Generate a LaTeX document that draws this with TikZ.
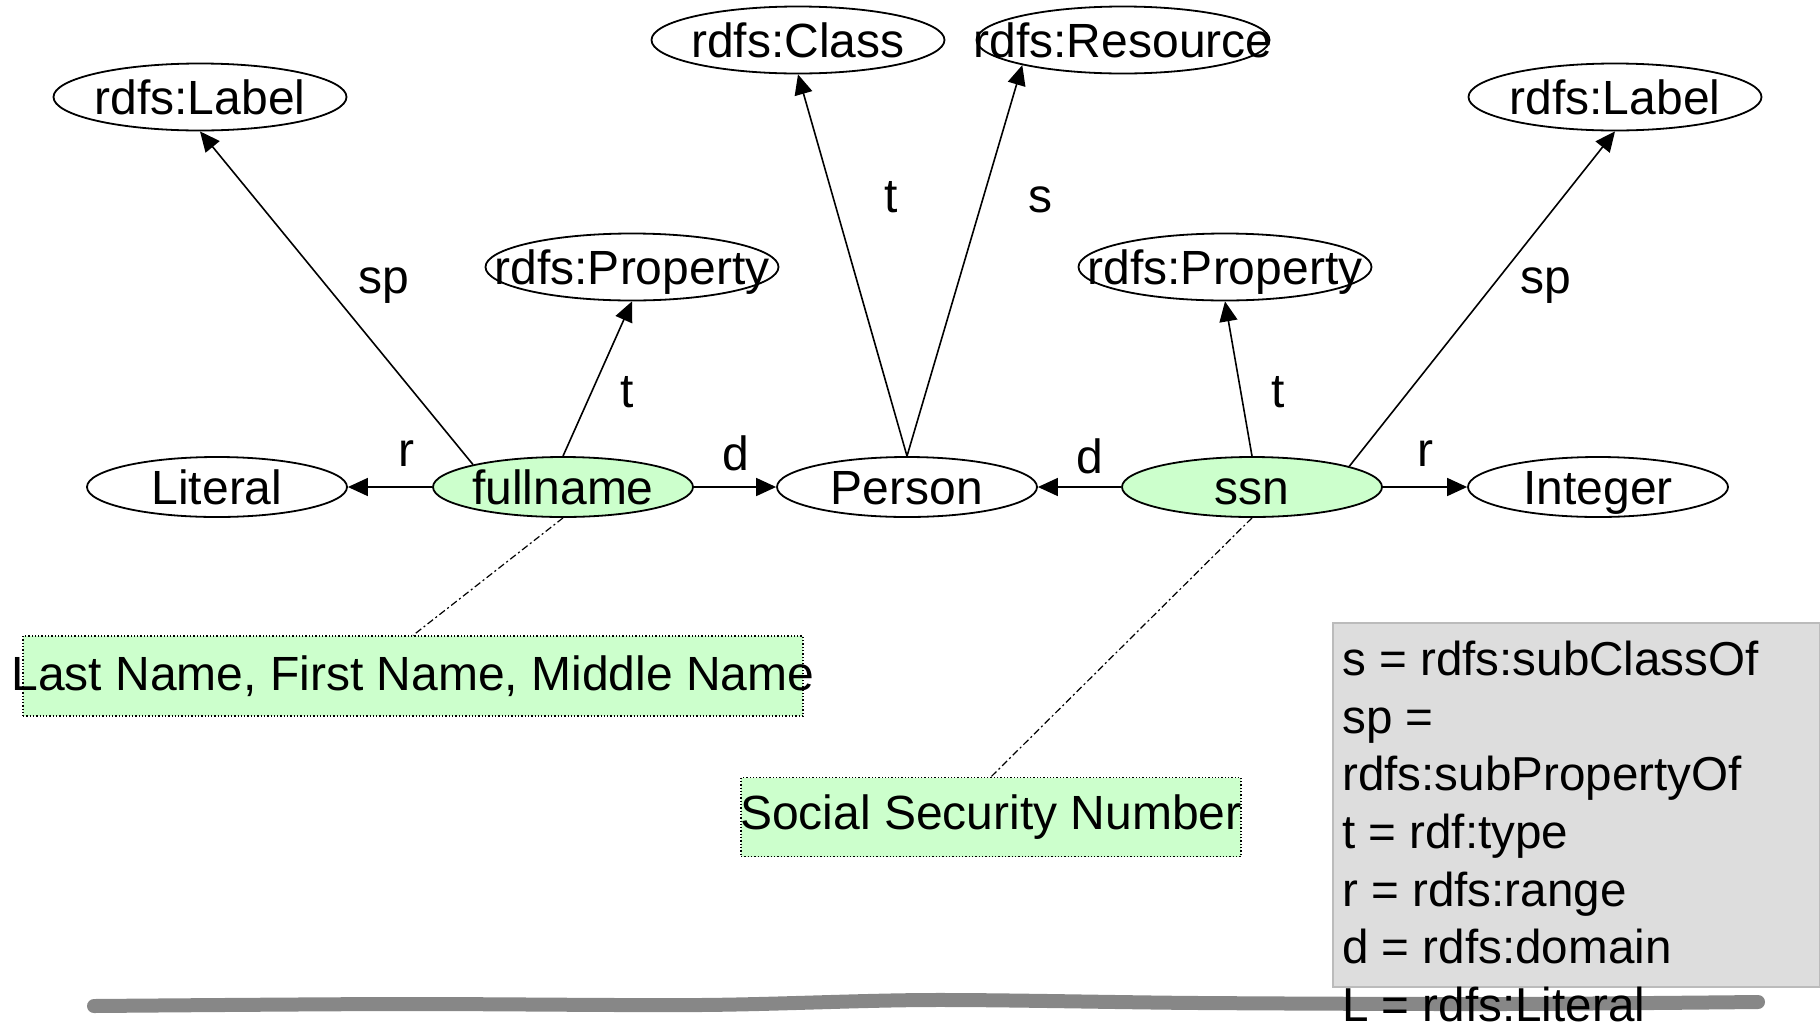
\documentclass[tikz,border=0pt]{standalone}
\usepackage{fontspec}
\setmainfont{Liberation Sans}
\usetikzlibrary{arrows.meta,shapes.geometric}
\definecolor{nodegreen}{HTML}{CCFFCC}
\definecolor{legendfill}{HTML}{DDDDDD}
\definecolor{legendline}{HTML}{BBBBBB}
\definecolor{bargray}{HTML}{878787}
\newcommand{\nt}[1]{\makebox[0pt]{\smash{\raisebox{-0.37em}{#1}}}}
\begin{document}
\begin{tikzpicture}[x=1pt,y=-1pt,
  every node/.style={font=\fontsize{48}{57.6}\selectfont},
  bigell/.style={ellipse, draw, line width=1.8pt, minimum width=293pt, minimum height=67pt, inner sep=0pt},
  smallell/.style={ellipse, draw, line width=1.8pt, minimum width=260pt, minimum height=60pt, inner sep=0pt},
  hl/.style={fill=nodegreen},
  edge/.style={line width=1.6pt, -{Triangle[length=20pt,width=18pt]}},
  elabel/.style={inner sep=0pt},
  note/.style={fill=nodegreen, draw, dotted, line width=1.3pt, inner sep=0pt},
  noteline/.style={line width=1.2pt, dash pattern=on 7pt off 3pt on 2pt off 3pt}
]
\useasboundingbox (0,0) rectangle (1820,1026);

% ellipses
\node[bigell] (labelL) at (200,97) {\nt{rdfs:Label}};
\node[bigell] (cls) at (798,40) {\nt{rdfs:Class}};
\node[bigell] (res) at (1123,40) {\nt{rdfs:Resource}};
\node[bigell] (labelR) at (1615,97) {\nt{rdfs:Label}};
\node[bigell] (propL) at (632,267) {\nt{rdfs:Property}};
\node[bigell] (propR) at (1225,267) {\nt{rdfs:Property}};
\node[smallell] (lit) at (217,487) {\nt{Literal}};
\node[smallell,hl] (full) at (563,487) {\nt{fullname}};
\node[smallell] (person) at (907,487) {\nt{Person}};
\node[smallell,hl] (ssn) at (1252,487) {\nt{ssn}};
\node[smallell] (int) at (1598,487) {\nt{Integer}};

% edges
\draw[edge] (full.west) -- (lit.east);
\draw[edge] (full.east) -- (person.west);
\draw[edge] (ssn.west) -- (person.east);
\draw[edge] (ssn.east) -- (int.west);
\draw[edge] (full.166) -- (labelL.south);
\draw[edge] (full.north) -- (propL.south);
\draw[edge] (person.north) -- (cls.south);
\draw[edge] (person.north) -- (res.194);
\draw[edge] (ssn.north) -- (propR.south);
\draw[edge] (ssn.12) -- (labelR.south);

% edge labels
\node[elabel] (lr1) at (406,454) {r};
\node[elabel] (ld1) at (736,453) {d};
\node[elabel] (ld2) at (1090,456) {d};
\node[elabel] (lr2) at (1425,454) {r};
\node[elabel] (lsp1) at (384,286) {sp};
\node[elabel] (lt1) at (627,392) {t};
\node[elabel] (lt2) at (891,197) {t};
\node[elabel] (ls) at (1040,200) {s};
\node[elabel] (lt3) at (1278,392) {t};
\node[elabel] (lsp2) at (1546,286) {sp};

% notes
\node[note, minimum height=80pt] (nameNote) at (413,676) {\makebox[780pt]{Last Name, First Name, Middle Name}};
\node[note, minimum height=79pt] (ssnNote) at (991,817) {\makebox[500pt]{Social Security Number}};
\draw[noteline] (full.south) -- (nameNote.north);
\draw[noteline] (ssn.south) -- (ssnNote.north);

% bottom bar
\draw[bargray, line width=14pt, line cap=round] plot[smooth] coordinates {(94,1006) (400,1004) (700,1005) (930,1000) (1200,1003) (1500,1004) (1758,1002)};

% legend
\node[draw=legendline, fill=legendfill, line width=1.5pt, minimum width=487pt, minimum height=364pt, inner sep=0pt, anchor=north west] (legendbox) at (1332,622) {};
\node[anchor=north west, inner sep=0pt, align=left, font=\fontsize{47.6}{57.6}\selectfont] (legend) at (1342,641)
  {s = rdfs:subClassOf\\sp =\\rdfs:subPropertyOf\\t = rdf:type\\r = rdfs:range\\d = rdfs:domain\\L = rdfs:Literal};
\end{tikzpicture}
\end{document}
